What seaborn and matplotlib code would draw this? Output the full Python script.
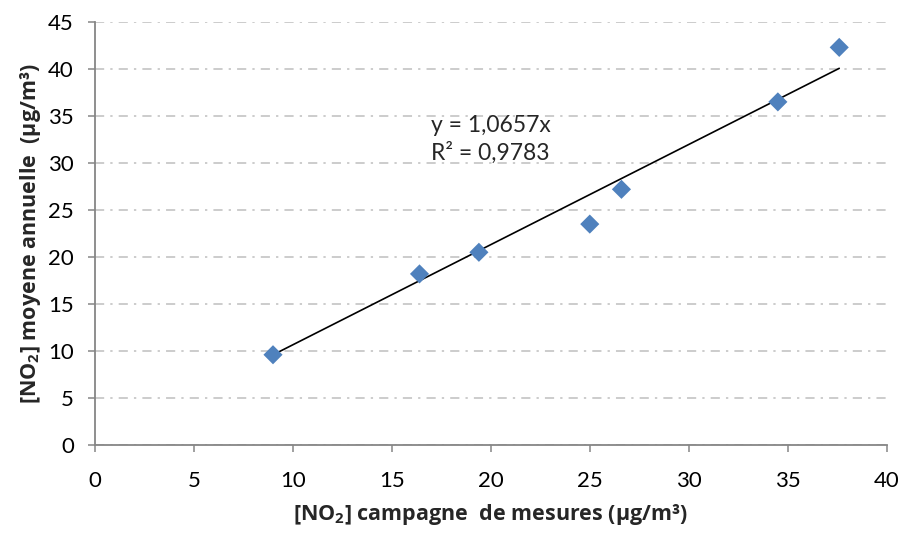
import numpy as np
import pandas as pd
import matplotlib
matplotlib.use('Agg')
import matplotlib.pyplot as plt
import seaborn as sns

# valeurs
campagne = [9.0, 16.4, 19.4, 25.0, 26.6, 34.5, 37.6]
annuelle = [9.6, 18.2, 20.5, 23.5, 27.2, 36.5, 42.3]
pente = 1.0657
r2 = 0.9783

sns.set_theme(style="white")
plt.rcParams['font.family'] = ['Lato', 'DejaVu Sans']
plt.rcParams['mathtext.fontset'] = 'custom'
plt.rcParams['mathtext.rm'] = 'Open Sans'
plt.rcParams['mathtext.bf'] = 'Open Sans:bold'

df = pd.DataFrame({"campagne": campagne, "annuelle": annuelle})
x_fit = np.array([min(campagne), max(campagne)])
df_fit = pd.DataFrame({"x": x_fit, "y": pente * x_fit})

fig = plt.figure(figsize=(9.03, 5.34), dpi=100)
ax = fig.add_axes([0.105, 0.1667, 0.877, 0.7921])

sns.scatterplot(data=df, x="campagne", y="annuelle", ax=ax, marker="D",
                s=95, color="#4F81BD", edgecolor="none", zorder=3)
sns.lineplot(data=df_fit, x="x", y="y", ax=ax, color="black", lw=1.2, zorder=2)

ax.set_xlim(0, 40)
ax.set_ylim(0, 45)
ax.set_xticks(range(0, 41, 5))
ax.set_yticks(range(0, 46, 5))

ax.grid(axis='y', color='#BFBFBF', linestyle=(0, (6, 4, 1.5, 4)), lw=1.1)
ax.set_axisbelow(True)
for s in ['top', 'right']:
    ax.spines[s].set_visible(False)
for s in ['left', 'bottom']:
    ax.spines[s].set_color('#868686')
    ax.spines[s].set_linewidth(1.3)

ax.tick_params(axis='both', which='major', direction='out', length=5, width=1.1,
               color='#868686', labelsize=16, labelcolor='black',
               left=True, bottom=True)
ax.tick_params(axis='y', pad=10)
ax.tick_params(axis='x', pad=14)

lab = dict(fontsize=15.5, fontweight='bold', family=['Open Sans', 'DejaVu Sans'])
ax.set_xlabel(r"[NO$_\mathbf{2}$] campagne  de mesures (µg/m³)", labelpad=8, **lab)
ax.set_ylabel(r"[NO$_\mathbf{2}$] moyene annuelle  (µg/m³)", labelpad=4, **lab)

ax.text(17.0, 34.0, "y = 1,0657x", fontsize=16.5, va='center')
ax.text(17.0, 31.1, "R² = 0,9783", fontsize=16.5, va='center')

fig.savefig("out.png", dpi=100)
